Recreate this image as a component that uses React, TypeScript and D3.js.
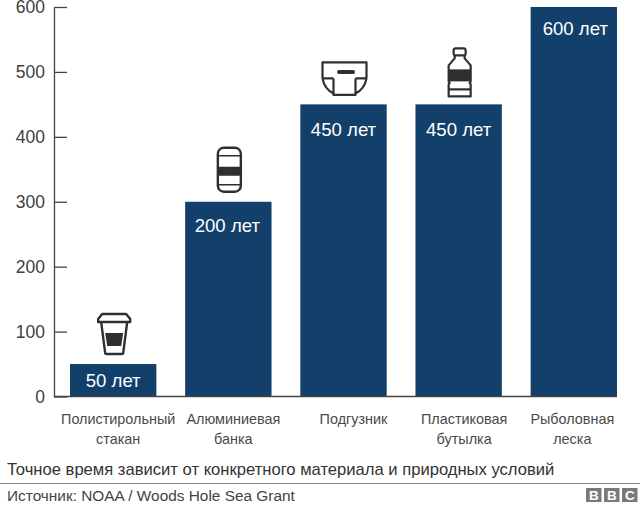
import React, { useEffect, useRef } from "react";
import { select, scaleBand, scaleLinear, axisLeft } from "d3";

const categories = [
  ["Полистирольный", "стакан"],
  ["Алюминиевая", "банка"],
  ["Подгузник"],
  ["Пластиковая", "бутылка"],
  ["Рыболовная", "леска"],
];
// the bar for the can really is drawn up to 300 while its label says 200
const values = [50, 300, 450, 450, 600];
const barLabels = ["50 лет", "200 лет", "450 лет", "450 лет", "600 лет"];
const yTicks = [0, 100, 200, 300, 400, 500, 600];
const note = "Точное время зависит от конкретного материала и природных условий";
const source = "Источник: NOAA / Woods Hole Sea Grant";
const logoLetters = ["B", "B", "C"];

const width = 640;
const height = 506;
const FONT = "'Liberation Sans', Arial, sans-serif";
const BAR = "#12406a";
const INK = "#2f2f2f";

// hand placement of the labels, they are not centred in the original
const categoryShift = [5, 5, 10, 5.5, -1.5];
const barLabelShift = [0, -1, 0, 0, 1.5];
const barLabelDrop = [23, 30, 32, 32, 28];

// icons, origin = bar centre at the top of the bar
const Cup = () => (
  <g fill="none" stroke={INK} strokeWidth={2.4} strokeLinejoin="round" transform="translate(1,0)">
    <path d="M-16,-42 L-16,-45 L-12,-50 H12 L16,-45 L16,-42 Z" />
    <path d="M-13,-42 L-9,-11 Q-9,-10 -7,-10 H7 Q9,-10 9,-11 L13,-42" />
    <path d="M-9,-31 H9 L7,-18 H-7 Z" fill={INK} stroke="none" />
  </g>
);
const Can = () => (
  <g fill="none" stroke={INK} strokeWidth={2.4} transform="translate(1,0)">
    <rect x={-11.5} y={-54} width={23} height={44} rx={6} />
    <path d="M-11,-46 H11 M-11,-17 H11" strokeWidth={1.6} />
    <rect x={-12} y={-35} width={24} height={9} fill={INK} stroke="none" />
  </g>
);
const Diaper = () => (
  <g fill="none" stroke={INK} strokeWidth={2.2} strokeLinejoin="round" transform="translate(1,0)">
    <path d="M-22,-26 V-42 H22 V-26" />
    <path d="M-22,-26 H-11 M22,-26 H11" />
    <path d="M-22,-26 Q-20,-15 -11,-11 V-9.5 H11 V-11 Q20,-15 22,-26" />
    <path d="M-11,-11 V-26 M11,-11 V-26" />
    <rect x={-7.5} y={-34.5} width={18} height={4} rx={2} fill={INK} stroke="none" />
  </g>
);
const Bottle = () => (
  <g fill="none" stroke={INK} strokeWidth={2.2} strokeLinejoin="round" transform="translate(1,0)">
    <rect x={-6} y={-56} width={12} height={7} rx={2} />
    <path d="M-5,-49 V-46 L-11,-39 V-23 L-10,-21.5 L-11,-20 V-8 H11 V-20 L10,-21.5 L11,-23 V-39 L5,-46 V-49" />
    <path d="M-11,-15 H11" />
    <rect x={-11} y={-35} width={22} height={12} fill={INK} stroke="none" />
  </g>
);
const icons = [Cup, Can, Diaper, Bottle, null];

const App = () => {
  const axisRef = useRef<SVGGElement>(null);

  const x = scaleBand<number>()
    .domain(values.map((_, i) => i))
    .range([70, 617])
    .paddingInner(0.25)
    .paddingOuter(0);
  const y = scaleLinear().domain([0, 600]).range([396.5, 7]);

  useEffect(() => {
    const g = select(axisRef.current);
    g.call(axisLeft(y).tickValues(yTicks).tickSizeInner(-13).tickSizeOuter(0).tickPadding(9) as any);
    g.select(".domain").attr("stroke", "#444").attr("stroke-width", 1.3);
    g.selectAll(".tick line").attr("stroke", "#444").attr("stroke-width", 1.3);
    g.selectAll(".tick text")
      .attr("font-family", FONT)
      .attr("font-size", 17.5)
      .attr("fill", "#404040");
  }, []);

  return (
    <svg
      width={width}
      height={height}
      style={{ position: "absolute", left: 0, top: 0, display: "block", background: "#fff" }}
    >
      {values.map((v, i) => {
        const Icon = icons[i];
        const bx = x(i) as number;
        const cx = bx + x.bandwidth() / 2;
        return (
          <g key={i}>
            <rect x={bx} y={y(v)} width={x.bandwidth()} height={y(0) - y(v)} fill={BAR} />
            <text
              x={cx + barLabelShift[i]}
              y={y(v) + barLabelDrop[i]}
              textAnchor="middle"
              fontFamily={FONT}
              fontSize={18.6}
              fill="#fff"
            >
              {barLabels[i]}
            </text>
            {Icon && (
              <g transform={`translate(${cx},${y(v)})`}>
                <Icon />
              </g>
            )}
            {categories[i].map((line, j) => (
              <text
                key={j}
                x={cx + categoryShift[i]}
                y={424 + j * 20}
                textAnchor="middle"
                fontFamily={FONT}
                fontSize={14.4}
                fill="#4a4a4a"
              >
                {line}
              </text>
            ))}
          </g>
        );
      })}
      <g ref={axisRef} transform="translate(54,0)" />
      <line x1={54} x2={617} y1={y(0)} y2={y(0)} stroke="#444" strokeWidth={1.3} />

      <text x={7} y={475} fontFamily={FONT} fontSize={16.6} fill="#333">{note}</text>
      <line x1={0} x2={640} y1={483.5} y2={483.5} stroke="#8a8a8a" strokeWidth={1} />
      <text x={7} y={501} fontFamily={FONT} fontSize={15.4} fill="#444">{source}</text>

      {logoLetters.map((l, i) => (
        <g key={i} transform={`translate(${586 + i * 18},488)`}>
          <rect width={15.5} height={14} fill="#7a7a7a" />
          <text x={7.75} y={12} textAnchor="middle" fontFamily={FONT} fontWeight={700} fontSize={13.5} fill="#fff">
            {l}
          </text>
        </g>
      ))}
    </svg>
  );
};

export default App;
